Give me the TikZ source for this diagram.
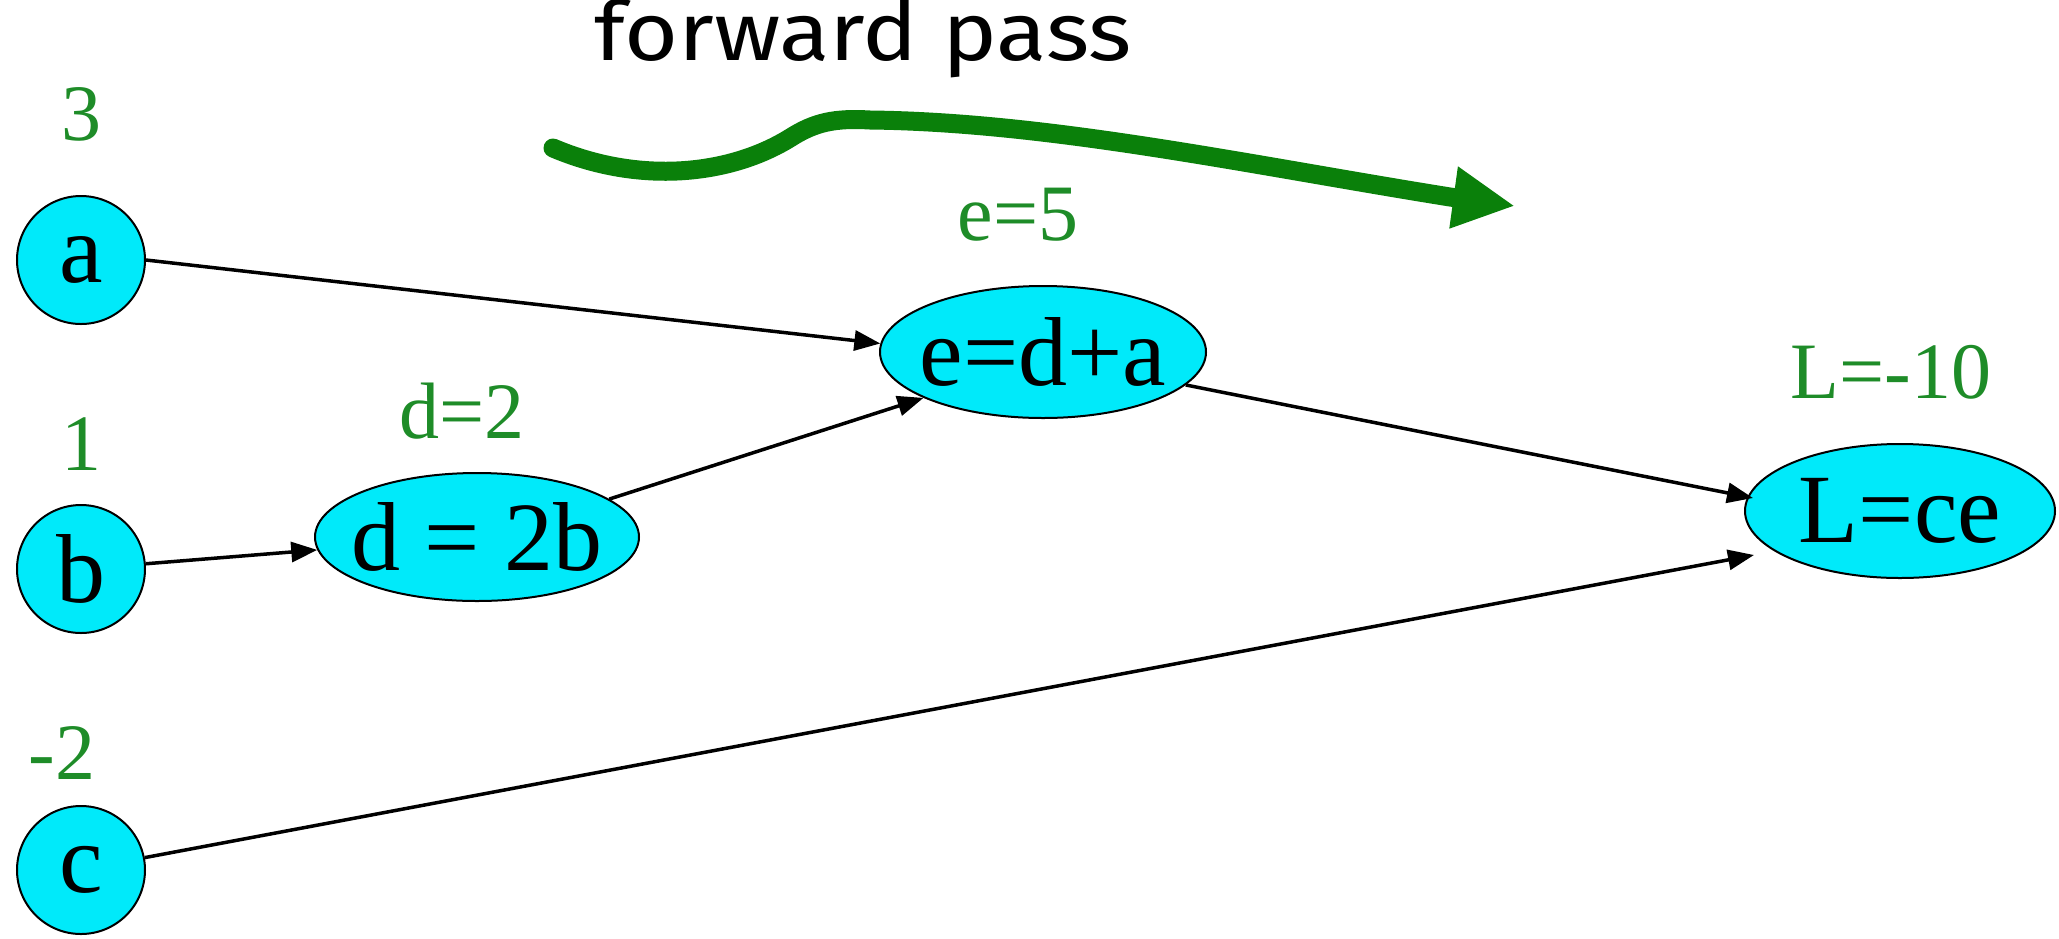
\documentclass[tikz,border=0pt]{standalone}
\usepackage{fontspec}
\setmainfont{Liberation Serif}
\newfontfamily\handfont{Fira Sans}
\usetikzlibrary{arrows.meta,shapes.geometric}
\definecolor{nodecyan}{RGB}{0,234,250}
\definecolor{labgreen}{RGB}{30,140,40}
\definecolor{arrgreen}{RGB}{10,128,10}
\tikzset{
  every picture/.style={x=1pt,y=-1pt},
  inode/.style={circle,draw=black,line width=2pt,fill=nodecyan,minimum size=128pt,inner sep=-10pt,
    font=\fontsize{98}{104}\selectfont},
  opnode/.style={ellipse,draw=black,line width=2pt,fill=nodecyan,inner xsep=-40pt,inner ysep=-25pt,
    font=\fontsize{98}{104}\selectfont},
  vallabel/.style={text=labgreen,inner sep=0pt,font=\fontsize{80}{86}\selectfont},
  edge/.style={line width=3.5pt,-{Triangle[length=26pt,width=20pt]}},
  fwd/.style={draw=arrgreen,line width=19pt,line cap=round,-{Triangle[length=62pt,width=58pt]}}
}
\begin{document}
\begin{tikzpicture}
\useasboundingbox (0,0) rectangle (2059,938);
% input nodes
\node[inode] (a) at (81,260) {a};
\node[inode] (b) at (81,569) {b};
\node[inode] (c) at (81,870) {c};
% operation nodes
\node[opnode,minimum width=324pt,minimum height=128pt] (d) at (477,537) {d = 2b};
\node[opnode,minimum width=326pt,minimum height=132pt] (e) at (1043,352) {e=d+a};
\node[opnode,minimum width=310pt,minimum height=134pt] (L) at (1900,511) {L=ce};
% value labels
\node[vallabel] (va) at (81,114) {3};
\node[vallabel] (vb) at (81,444) {1};
\node[vallabel] (vc) at (62,753) {-2};
\node[vallabel] (vd) at (462,411) {d=2};
\node[vallabel] (ve) at (1018,215) {e=5};
\node[vallabel] (vL) at (1891,372) {L=-10};
% edges
\draw[edge] (a.east) -- (e.177);
\draw[edge] (b) -- (d);
\draw[edge] (d.16) -- (e.201);
\draw[edge] (e.-13) -- ([xshift=9pt,yshift=13pt]L.west);
\draw[edge] (c.11) -- ([xshift=10pt,yshift=-44pt]L.west);
% forward pass annotation
\node[inner sep=0pt,anchor=base,font=\handfont\fontsize{82}{88}\selectfont] (fp) at (863,60) {\scalebox{1.13}[1]{forward pass}};
\coordinate (f0) at (553,148);
\coordinate (f1) at (870,120);
\coordinate (f2) at (1515,206);
\draw[fwd] (f0) .. controls (640,185) and (730,175) .. (790,138)
  .. controls (815,122) and (835,118) .. (f1)
  .. controls (1050,122) and (1250,165) .. (1450,197) -- (f2);
\end{tikzpicture}
\end{document}
